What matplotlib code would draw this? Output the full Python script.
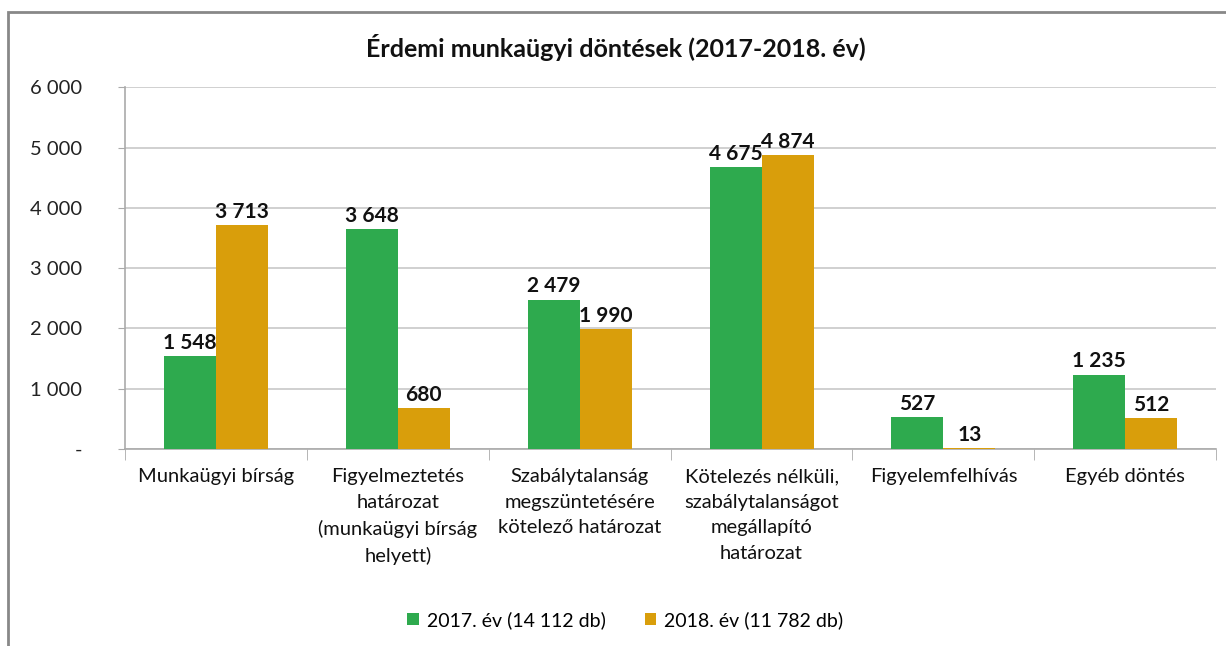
import matplotlib.pyplot as plt
import matplotlib.patches as mpatches
import numpy as np

plt.rcParams['font.family'] = ['Lato', 'DejaVu Sans']

categories = ['Munkaügyi bírság',
              'Figyelmeztetés\nhatározat\n(munkaügyi bírság\nhelyett)',
              'Szabálytalanság\nmegszüntetésére\nkötelező határozat',
              'Kötelezés nélküli,\nszabálytalanságot\nmegállapító\nhatározat',
              'Figyelemfelhívás',
              'Egyéb döntés']
v2017 = [1548, 3648, 2479, 4675, 527, 1235]
v2018 = [3713, 680, 1990, 4874, 13, 512]
labels = ['2017. év (14 112 db)', '2018. év (11 782 db)']
colors = ['#2eaa4e', '#d99e0b']


def fmt(v):
    return f'{v:,}'.replace(',', ' ')


fig = plt.figure(figsize=(12.26, 6.46), dpi=100)
ax = fig.add_axes([0.102, 0.305, 0.89, 0.56])

x = np.arange(len(categories))
w = 0.286
b1 = ax.bar(x - w / 2, v2017, w, color=colors[0], label=labels[0], zorder=3)
b2 = ax.bar(x + w / 2, v2018, w, color=colors[1], label=labels[1], zorder=3)

for bars in (b1, b2):
    for r in bars:
        ax.text(r.get_x() + r.get_width() / 2, r.get_height() + 50, fmt(int(r.get_height())),
                ha='center', va='bottom', fontsize=15, fontweight='bold', color='#111111')

ax.set_xlim(-0.5, len(categories) - 0.5)
ax.set_ylim(0, 6000)
yt = np.arange(0, 6001, 1000)
ax.set_yticks(yt)
ax.set_yticklabels(['-'] + [fmt(v) for v in yt[1:]], fontsize=14.5, color='#222222')
ax.tick_params(axis='y', length=5, color='#aaaaaa', pad=26)
ax.yaxis.grid(True, color='#c8c8c8', linewidth=1.2, zorder=0)

ax.set_xticks(x)
ax.set_xticklabels(categories, fontsize=14.5, color='#111111', linespacing=1.6)
ax.tick_params(axis='x', length=0, pad=14)
ax.set_xticks(np.arange(-0.5, len(categories)), minor=True)
ax.tick_params(axis='x', which='minor', length=8, color='#aaaaaa')

for s in ['top', 'right']:
    ax.spines[s].set_visible(False)
for s in ['left', 'bottom']:
    ax.spines[s].set_color('#aaaaaa')
    ax.spines[s].set_linewidth(1.2)

fig.text(0.502, 0.927, 'Érdemi munkaügyi döntések (2017-2018. év)', ha='center', va='center',
         fontsize=18, fontweight='bold', color='#111111')

fig.legend(handles=[b1, b2], loc='center', bbox_to_anchor=(0.51, 0.04), ncol=2, frameon=False,
           fontsize=14, handlelength=0.6, handleheight=0.6, handletextpad=0.4, columnspacing=2.0)

fig.patches.append(mpatches.Rectangle((8 / 1226, -0.1), 1.2, 1 - 12 / 646 + 0.1,
                                      transform=fig.transFigure, fill=False,
                                      edgecolor='#888888', linewidth=2))

fig.savefig('out.png', dpi=100)
